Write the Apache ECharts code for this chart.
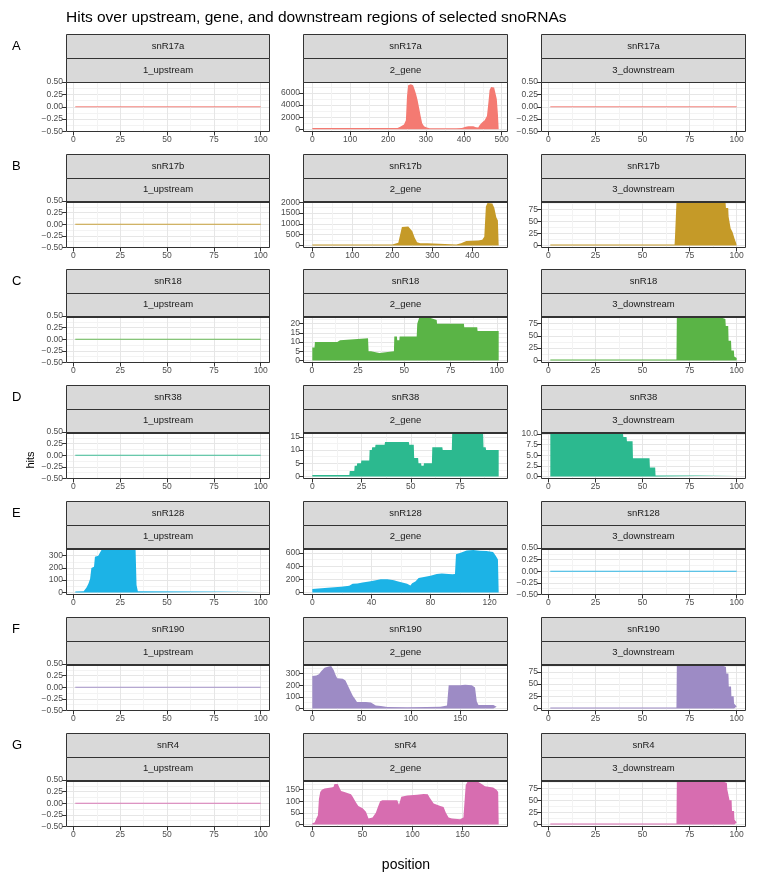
<!DOCTYPE html>
<html><head><meta charset="utf-8">
<script src="https://cdn.jsdelivr.net/npm/echarts@6/dist/echarts.min.js"></script>
<style>html,body{margin:0;padding:0;background:#fff}#c{width:760px;height:890px}</style>
</head><body><div id="c"></div><script>
// ---------- labels ----------
const rowLetters = ['A','B','C','D','E','F','G'];
const snoRNAs = ['snR17a','snR17b','snR18','snR38','snR128','snR190','snR4'];
const regions = ['1_upstream','2_gene','3_downstream'];
const fills = ['#F47A72','#C59A28','#5AB446','#2CB98F','#1CB3E6','#9D8BC5','#D76DB0'];

// ---------- tick arrays ----------
const ticksPos100 = [0,25,50,75,100];
const ticksFlat = [-0.5,-0.25,0,0.25,0.5];
const ticksPosA_gene = [0,100,200,300,400,500];
const ticksHitsA_gene = [0,2000,4000,6000];
const ticksPosB_gene = [0,100,200,300,400];
const ticksHitsB_gene = [0,500,1000,1500,2000];
const ticksHitsDown = [0,25,50,75];
const ticksHitsC_gene = [0,5,10,15,20];
const ticksPosD_gene = [0,25,50,75];
const ticksHitsD_gene = [0,5,10,15];
const ticksHitsD_down = [0,2.5,5,7.5,10];
const ticksHitsE_up = [0,100,200,300];
const ticksPosE_gene = [0,40,80,120];
const ticksHitsE_gene = [0,200,400,600];
const ticksPosF_gene = [0,50,100,150];
const ticksHitsF_gene = [0,100,200,300];
const ticksPosG_gene = [0,50,100,150];
const ticksHitsG_gene = [0,50,100,150];

// ---------- data ----------
const posFlat = [1,100];
const hitsFlat = [0,0];

const posA_gene = [0,225,232,242,247,250,253,260,266,270,274,278,282,286,290,295,302,310,380,395,405,412,425,432,438,442,448,455,461,465,468,472,480,484,487,490,492];
const hitsA_gene = [200,200,400,800,1500,5500,7300,7450,7300,6600,5800,4800,3500,2200,1000,500,300,150,150,200,400,500,500,350,300,700,1100,1500,2200,4500,6500,7000,6900,6600,5000,2500,0];

const posB_gene = [0,200,205,215,220,224,228,240,244,250,256,262,270,288,292,360,372,385,415,425,430,434,438,450,455,460,464,466];
const hitsB_gene = [40,40,80,120,200,850,880,870,820,650,350,150,100,100,40,40,100,200,230,260,400,1800,1960,1940,1750,1300,1150,0];
const posB_down = [1,67,67.2,67.8,68,94.1,94.3,95.5,95.7,96.6,96.8,97.6,97.8,98.6,98.8,99.5,99.7,100];
const hitsB_down = [2,2,15,15,88,88,78,78,60,60,35,35,28,28,15,15,5,3];

const posC_gene = [0.3,1.5,1.7,13.8,14,15.3,15.5,30.4,30.7,32,32.2,36.5,36.7,44.4,44.6,46,46.2,47.3,47.5,56.7,57,57.8,58,64.2,64.4,67.5,67.7,82.2,82.4,89.4,89.6,101];
const hitsC_gene = [7,7,10,10,11,11,12,12,5,5,4,4,5,5,13,13,11,11,13,13,20,20,23,23,22,22,20,20,18,18,16,16];
const posC_down = [1,68,68.2,92.5,92.7,94,94.2,95.5,95.7,97,97.2,98.5,98.7,100];
const hitsC_down = [2,2,86,86,84,84,70,70,40,40,20,20,8,5];

const posD_gene = [0,18.8,19,21.3,21.5,22.6,22.8,24.7,24.9,28.9,29.1,30.2,30.4,31.9,32.1,36.7,36.9,49,49.2,51.5,51.7,53.7,53.9,55.2,55.4,56.5,56.7,60.7,60.9,66,66.2,70.8,71,86.7,86.9,88,88.2,94.6];
const hitsD_gene = [0.5,0.5,2,2,4,4,5,5,6,6,10,10,11,11,12,12,13,13,12,12,7,7,5,5,4,4,5,5,11,11,10,10,16,16,11,11,10,10];
const posD_down = [1,39.6,39.8,41.5,41.7,44.7,44.9,53.7,53.9,56.7,56.9,100];
const hitsD_down = [10,10,9.3,9.3,8.3,8.3,4.3,4.3,2.1,2.1,0.2,0.2];

const posE_up = [1,5.5,6,7,8,8.9,9.6,11,11.5,13.3,14,15,33.2,33.7,34.4,35,100];
const hitsE_up = [8,10,15,40,70,110,200,210,290,300,320,345,345,60,10,5,5];
const posE_gene = [0,10.5,19.5,25,27.3,30.6,34,38.5,43,46.3,50.8,55.3,57.5,60.9,64.2,66.4,67.6,69.8,72,76.5,80,84.3,87.7,92.2,95,96.6,97.3,100,104.5,109,113.4,117.9,122.4,124.2,125.7,126.2];
const hitsE_gene = [50,70,85,100,130,135,150,165,185,200,200,185,170,150,130,105,140,165,220,240,255,280,290,280,275,280,580,600,640,645,635,630,615,560,500,0];

const posF_gene = [0,4,6.7,9,12.4,15.8,19.1,21.8,23.5,25.2,30.9,33.6,35.9,37.6,39.3,41,43.3,45.3,54.4,59.4,64.4,69.5,76.2,96.3,116,130,136.6,138.3,150,155,161.7,165,166.8,168.5,183.6,187,189];
const hitsF_gene = [280,285,295,320,350,360,365,330,290,260,255,240,200,170,140,110,80,55,55,50,25,20,12,10,12,15,25,200,200,205,200,180,60,30,30,15,5];
const posF_down = [1,68,68.2,93,93.2,94.3,94.5,95.6,95.8,97,97.2,98.4,98.6,100];
const hitsF_down = [2,2,87,87,85,85,72,72,45,45,25,25,10,4];

const posG_gene = [0,2.3,4,5.6,6.6,7.9,9.6,12.2,18.8,21.1,22.1,25.4,27,28.7,32,38.6,40.3,43.6,45.9,50.2,53.5,56.1,60.1,63.4,65,67.7,70,84.8,86.5,88.8,94.7,104.6,111.2,115.2,117.2,121.1,127.7,131,133.3,136,139.3,147.5,150.8,153.1,154.8,165.7,169,172.3,180.5,183.8,185.5,186];
const hitsG_gene = [5,8,25,40,110,140,150,155,160,162,175,175,160,145,140,130,120,95,80,70,55,25,30,50,70,100,105,105,85,120,125,128,132,130,115,90,80,75,50,30,25,22,30,170,183,183,175,165,160,150,140,0];
const posG_down = [1,68,68.2,93.5,93.7,94.8,95,96,96.2,97.3,97.5,98.6,98.8,100];
const hitsG_down = [2,2,88,88,86,86,73,73,50,50,28,28,10,4];

// panels in reading order: [positions, hits, x ticks, y ticks]
const panels = [
  [posFlat,hitsFlat,ticksPos100,ticksFlat],[posA_gene,hitsA_gene,ticksPosA_gene,ticksHitsA_gene],[posFlat,hitsFlat,ticksPos100,ticksFlat],
  [posFlat,hitsFlat,ticksPos100,ticksFlat],[posB_gene,hitsB_gene,ticksPosB_gene,ticksHitsB_gene],[posB_down,hitsB_down,ticksPos100,ticksHitsDown],
  [posFlat,hitsFlat,ticksPos100,ticksFlat],[posC_gene,hitsC_gene,ticksPos100,ticksHitsC_gene],[posC_down,hitsC_down,ticksPos100,ticksHitsDown],
  [posFlat,hitsFlat,ticksPos100,ticksFlat],[posD_gene,hitsD_gene,ticksPosD_gene,ticksHitsD_gene],[posD_down,hitsD_down,ticksPos100,ticksHitsD_down],
  [posE_up,hitsE_up,ticksPos100,ticksHitsE_up],[posE_gene,hitsE_gene,ticksPosE_gene,ticksHitsE_gene],[posFlat,hitsFlat,ticksPos100,ticksFlat],
  [posFlat,hitsFlat,ticksPos100,ticksFlat],[posF_gene,hitsF_gene,ticksPosF_gene,ticksHitsF_gene],[posF_down,hitsF_down,ticksPos100,ticksHitsDown],
  [posFlat,hitsFlat,ticksPos100,ticksFlat],[posG_gene,hitsG_gene,ticksPosG_gene,ticksHitsG_gene],[posG_down,hitsG_down,ticksPos100,ticksHitsDown]
];

// ---------- layout ----------
const colLeft = [66,303,541], colW = [204,205,205];
const rowTop = [34,154,269,385,501,617,733];
const FONT = '"Liberation Sans Narrow","Liberation Sans",Arial,sans-serif';
const FONT_T = '"Liberation Sans",Arial,sans-serif';

function expand(lo,hi){const d=hi-lo;return [lo-0.05*d,hi+0.05*d];}
function fmt(ticks){
  const dec=Math.max(...ticks.map(t=>{const s=String(t);return s.includes('.')?s.split('.')[1].length:0;}));
  return v=>{let n=Number(v);if(Math.abs(n)<1e-9)n=0;return n.toFixed(dec).replace('-','\u2212');};
}
function minorsOf(ticks,r){
  const st=ticks[1]-ticks[0];const out=[];
  for(let k=-1;k<ticks.length;k++){const v=ticks[0]+(k+0.5)*st;if(v>=r[0]&&v<=r[1])out.push(v);}
  return out;
}
function mainAxis(i,r,ticks,pos){
  return {gridIndex:i,type:'value',min:r[0],max:r[1],position:pos,
    axisLine:{show:false,onZero:false},
    axisTick:{show:true,length:4,customValues:ticks,lineStyle:{color:'#333333',width:1}},
    axisLabel:{show:true,customValues:ticks,formatter:fmt(ticks),color:'#4D4D4D',fontSize:8.5,fontFamily:FONT,margin:(pos==='bottom'?4:3)},
    splitLine:{show:true,lineStyle:{color:'#E6E6E6',width:1}}};
}
function minorAxis(i,r,ticks,pos){
  return {gridIndex:i,type:'value',min:r[0],max:r[1],position:pos,
    axisLine:{show:false,onZero:false},
    axisTick:{show:false,customValues:minorsOf(ticks,r)},
    axisLabel:{show:false},
    splitLine:{show:true,lineStyle:{color:'#F3F3F3',width:1}}};
}

const grids=[],xAxes=[],yAxes=[],series=[],gfx=[];
panels.forEach((p,i)=>{
  const r=Math.floor(i/3),c=i%3;
  const [xs,ys,xt,yt]=p;
  const flat=ys.every(v=>v===0);
  const sH=r===0?24:23.5, pH=r===0?49.5:46.5;
  const left=colLeft[c], w=colW[c], T=rowTop[r], top=T+2*sH;
  grids.push({left:left,top:top,width:w,height:pH});
  const xr=expand(Math.min(...xs),Math.max(...xs));
  const yr=flat?[-0.5,0.5]:expand(Math.min(0,...ys),Math.max(...ys));
  xAxes.push(mainAxis(i,xr,xt,'bottom'),minorAxis(i,xr,xt,'bottom'));
  yAxes.push(mainAxis(i,yr,yt,'left'),minorAxis(i,yr,yt,'left'));
  const s={type:'line',xAxisIndex:2*i,yAxisIndex:2*i,data:xs.map((x,j)=>[x,ys[j]]),
    symbol:'none',showSymbol:false,silent:true,animation:false,z:2};
  if(flat){s.lineStyle={width:1.2,color:fills[r],opacity:0.9};}
  else{s.lineStyle={width:0,color:fills[r]};s.areaStyle={color:fills[r],opacity:1};}
  series.push(s);
  // strips
  const L=Math.round(left)+0.5, W=Math.round(w)-1;
  [snoRNAs[r],regions[c]].forEach((txt,k)=>{
    const y0=Math.round(T+k*sH)+0.5;
    gfx.push({type:'rect',z:50,shape:{x:L,y:y0,width:W,height:Math.round(sH)},style:{fill:'#D9D9D9',stroke:'#333333',lineWidth:1}});
    gfx.push({type:'text',z:51,x:left+w/2,y:T+k*sH+sH/2+0.5,style:{text:txt,fontSize:9.5,fontFamily:FONT,fill:'#1A1A1A',align:'center',verticalAlign:'middle'}});
  });
  gfx.push({type:'rect',z:60,shape:{x:L,y:Math.round(top)+0.5,width:W,height:Math.round(pH)-1},style:{fill:'none',stroke:'#333333',lineWidth:1}});
});
rowLetters.forEach((t,r)=>{
  gfx.push({type:'text',x:12,y:rowTop[r]+12,style:{text:t,fontSize:13,fontFamily:FONT_T,fill:'#000',align:'left',verticalAlign:'middle'}});
});
gfx.push({type:'text',x:66,y:18,style:{text:'Hits over upstream, gene, and downstream regions of selected snoRNAs',fontSize:15.5,fontFamily:FONT_T,fill:'#000',align:'left',verticalAlign:'middle'}});
gfx.push({type:'text',x:31,y:460,rotation:Math.PI/2,style:{text:'hits',fontSize:11,fontFamily:FONT_T,fill:'#000',align:'center',verticalAlign:'middle'}});
gfx.push({type:'text',x:406,y:865,style:{text:'position',fontSize:14,fontFamily:FONT_T,fill:'#000',align:'center',verticalAlign:'middle'}});

const chart=echarts.init(document.getElementById('c'),null,{renderer:'canvas'});
chart.setOption({animation:false,backgroundColor:'#fff',grid:grids,xAxis:xAxes,yAxis:yAxes,series:series,graphic:{elements:gfx}});
</script></body></html>
